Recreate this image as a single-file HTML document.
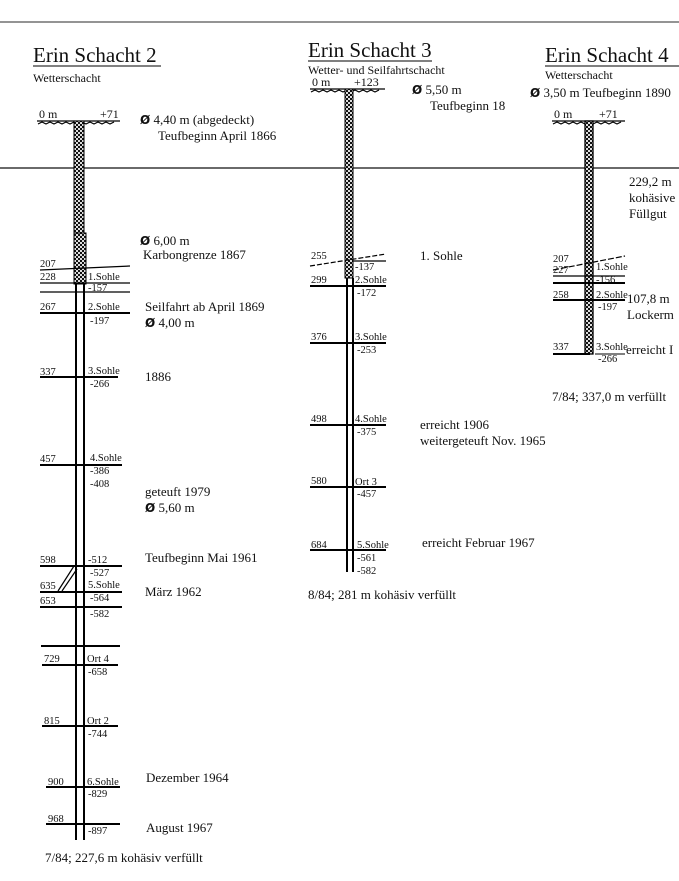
<!DOCTYPE html>
<html><head><meta charset="utf-8"><style>
html,body{margin:0;padding:0;background:#fff;}
svg{display:block;font-family:"Liberation Serif",serif;}
.d{font-weight:bold;font-family:"DejaVu Sans",sans-serif;font-size:12px;}
</style></head><body>
<svg width="679" height="881" viewBox="0 0 679 881" xmlns="http://www.w3.org/2000/svg" fill="#111">
<defs>
<pattern id="h" width="4" height="4" patternUnits="userSpaceOnUse">
<rect width="4" height="4" fill="#ddd"/>
<rect x="0" y="0" width="2" height="2" fill="#111"/>
<rect x="2" y="2" width="2" height="2" fill="#111"/>
</pattern>
</defs>
<line x1="0" y1="22" x2="679" y2="22" stroke="#555" stroke-width="1.3"/>
<line x1="0" y1="168" x2="679" y2="168" stroke="#111" stroke-width="1.3"/>

<!-- Shaft 2 -->
<text x="33" y="62" font-size="21">Erin Schacht 2</text>
<line x1="33" y1="66" x2="161" y2="66" stroke="#000" stroke-width="1"/>
<text x="33" y="82" font-size="12">Wetterschacht</text>
<text x="39" y="118" font-size="12">0 m</text>
<text x="100" y="118" font-size="12">+71</text>
<line x1="37" y1="121" x2="120" y2="121" stroke="#000" stroke-width="1.2"/>
<path d="M38 124 l4 -2 l4 2 l4 -2 l4 2 l4 -2 l4 2 l4 -2 l4 2 l4 -2 l4 2 l4 -2 l4 2 l4 -2 l4 2 l4 -2 l4 2 l4 -2 l4 2 l4 -2" fill="none" stroke="#000" stroke-width="1.2"/>
<rect x="74" y="121" width="10" height="163" fill="url(#h)" stroke="#000" stroke-width="1"/>
<rect x="74" y="233" width="12" height="51" fill="url(#h)" stroke="#000" stroke-width="1"/>
<line x1="76" y1="284" x2="76" y2="840" stroke="#000" stroke-width="2"/>
<line x1="84" y1="284" x2="84" y2="840" stroke="#000" stroke-width="2"/>
<text x="140" y="124" font-size="13"><tspan class="d">Ø</tspan>  4,40 m (abgedeckt)</text>
<text x="158" y="140" font-size="13">Teufbeginn April 1866</text>
<text x="140" y="245" font-size="13"><tspan class="d">Ø</tspan> 6,00 m</text>
<text x="143" y="259" font-size="13">Karbongrenze 1867</text>
<text x="40" y="267" font-size="10.5">207</text>
<line x1="40" y1="270" x2="130" y2="266" stroke="#000" stroke-width="1.2"/>
<text x="40" y="280" font-size="10.5">228</text>
<text x="88" y="280" font-size="10.5">1.Sohle</text>
<line x1="40" y1="283" x2="130" y2="283" stroke="#000" stroke-width="1.3"/>
<text x="88" y="291" font-size="10.5">-157</text>
<line x1="40" y1="292" x2="130" y2="292" stroke="#000" stroke-width="1.3"/>
<text x="40" y="310" font-size="10.5">267</text><text x="88" y="310" font-size="10.5">2.Sohle</text>
<line x1="40" y1="313" x2="130" y2="313" stroke="#000" stroke-width="2"/>
<text x="90" y="324" font-size="10.5">-197</text>
<text x="145" y="311" font-size="13">Seilfahrt ab April 1869</text>
<text x="145" y="327" font-size="13"><tspan class="d">Ø</tspan> 4,00 m</text>
<text x="40" y="375" font-size="10.5">337</text><text x="88" y="374" font-size="10.5">3.Sohle</text>
<line x1="40" y1="377" x2="118" y2="377" stroke="#000" stroke-width="2"/>
<text x="90" y="387" font-size="10.5">-266</text>
<text x="145" y="381" font-size="13">1886</text>
<text x="40" y="462" font-size="10.5">457</text><text x="90" y="461" font-size="10.5">4.Sohle</text>
<line x1="40" y1="465" x2="122" y2="465" stroke="#000" stroke-width="2"/>
<text x="90" y="474" font-size="10.5">-386</text>
<text x="90" y="487" font-size="10.5">-408</text>
<text x="145" y="496" font-size="13">geteuft 1979</text>
<text x="145" y="512" font-size="13"><tspan class="d">Ø</tspan> 5,60 m</text>
<text x="40" y="563" font-size="10.5">598</text><text x="88" y="563" font-size="10.5">-512</text>
<line x1="40" y1="566" x2="122" y2="566" stroke="#000" stroke-width="2"/>
<text x="90" y="576" font-size="10.5">-527</text>
<line x1="58" y1="591" x2="74" y2="566" stroke="#000" stroke-width="1.2"/>
<line x1="62" y1="591" x2="77" y2="569" stroke="#000" stroke-width="1.2"/>
<text x="40" y="589" font-size="10.5">635</text><text x="88" y="588" font-size="10.5">5.Sohle</text>
<line x1="40" y1="592" x2="122" y2="592" stroke="#000" stroke-width="2"/>
<text x="90" y="601" font-size="10.5">-564</text>
<text x="40" y="604" font-size="10.5">653</text>
<line x1="40" y1="607" x2="122" y2="607" stroke="#000" stroke-width="2"/>
<text x="90" y="617" font-size="10.5">-582</text>
<text x="145" y="562" font-size="13">Teufbeginn Mai 1961</text>
<text x="145" y="596" font-size="13">März 1962</text>
<line x1="41" y1="646" x2="120" y2="646" stroke="#000" stroke-width="2"/>
<text x="44" y="662" font-size="10.5">729</text><text x="87" y="662" font-size="10.5">Ort 4</text>
<line x1="42" y1="665" x2="118" y2="665" stroke="#000" stroke-width="2"/>
<text x="88" y="675" font-size="10.5">-658</text>
<text x="44" y="724" font-size="10.5">815</text><text x="87" y="724" font-size="10.5">Ort 2</text>
<line x1="42" y1="726" x2="118" y2="726" stroke="#000" stroke-width="2"/>
<text x="88" y="737" font-size="10.5">-744</text>
<text x="48" y="785" font-size="10.5">900</text><text x="87" y="785" font-size="10.5">6.Sohle</text>
<line x1="46" y1="787" x2="120" y2="787" stroke="#000" stroke-width="2"/>
<text x="88" y="797" font-size="10.5">-829</text>
<text x="146" y="782" font-size="13">Dezember 1964</text>
<text x="48" y="822" font-size="10.5">968</text>
<line x1="46" y1="824" x2="120" y2="824" stroke="#000" stroke-width="2"/>
<text x="88" y="834" font-size="10.5">-897</text>
<text x="146" y="832" font-size="13">August 1967</text>
<text x="45" y="862" font-size="13">7/84; 227,6 m kohäsiv verfüllt</text>

<!-- Shaft 3 -->
<text x="308" y="57" font-size="21">Erin Schacht 3</text>
<line x1="308" y1="61" x2="432" y2="61" stroke="#000" stroke-width="1"/>
<text x="308" y="74" font-size="12">Wetter- und Seilfahrtschacht</text>
<text x="312" y="86" font-size="12">0 m</text><text x="354" y="86" font-size="12">+123</text>
<line x1="310" y1="89" x2="385" y2="89" stroke="#000" stroke-width="1.2"/>
<path d="M311 92 l4 -2 l4 2 l4 -2 l4 2 l4 -2 l4 2 l4 -2 l4 2 l4 -2 l4 2 l4 -2 l4 2 l4 -2 l4 2 l4 -2 l4 2 l4 -2" fill="none" stroke="#000" stroke-width="1.2"/>
<rect x="345" y="89" width="8" height="189" fill="url(#h)" stroke="#000" stroke-width="1"/>
<line x1="347" y1="278" x2="347" y2="572" stroke="#000" stroke-width="2"/>
<line x1="353" y1="278" x2="353" y2="572" stroke="#000" stroke-width="2"/>
<text x="412" y="94" font-size="13"><tspan class="d">Ø</tspan>  5,50 m</text>
<text x="430" y="110" font-size="13">Teufbeginn 18</text>
<text x="311" y="259" font-size="10.5">255</text>
<line x1="310" y1="266" x2="386" y2="254" stroke="#000" stroke-width="1.2" stroke-dasharray="5,2"/>
<line x1="352" y1="261" x2="386" y2="261" stroke="#000" stroke-width="1.3"/>
<text x="355" y="270" font-size="10.5">-137</text>
<text x="420" y="260" font-size="13">1. Sohle</text>
<text x="311" y="283" font-size="10.5">299</text><text x="355" y="283" font-size="10.5">2.Sohle</text>
<line x1="310" y1="286" x2="386" y2="286" stroke="#000" stroke-width="2"/>
<text x="357" y="296" font-size="10.5">-172</text>
<text x="311" y="340" font-size="10.5">376</text><text x="355" y="340" font-size="10.5">3.Sohle</text>
<line x1="310" y1="343" x2="386" y2="343" stroke="#000" stroke-width="2"/>
<text x="357" y="353" font-size="10.5">-253</text>
<text x="311" y="422" font-size="10.5">498</text><text x="355" y="422" font-size="10.5">4.Sohle</text>
<line x1="310" y1="425" x2="386" y2="425" stroke="#000" stroke-width="2"/>
<text x="357" y="435" font-size="10.5">-375</text>
<text x="420" y="429" font-size="13">erreicht 1906</text>
<text x="420" y="445" font-size="13">weitergeteuft Nov. 1965</text>
<text x="311" y="484" font-size="10.5">580</text><text x="355" y="485" font-size="10.5">Ort 3</text>
<line x1="310" y1="487" x2="386" y2="487" stroke="#000" stroke-width="2"/>
<text x="357" y="497" font-size="10.5">-457</text>
<text x="311" y="548" font-size="10.5">684</text><text x="357" y="548" font-size="10.5">5.Sohle</text>
<line x1="310" y1="550" x2="386" y2="550" stroke="#000" stroke-width="2"/>
<text x="357" y="561" font-size="10.5">-561</text>
<text x="357" y="574" font-size="10.5">-582</text>
<text x="422" y="547" font-size="13">erreicht Februar 1967</text>
<text x="308" y="599" font-size="13">8/84; 281 m kohäsiv verfüllt</text>

<!-- Shaft 4 -->
<text x="545" y="62" font-size="21">Erin Schacht 4</text>
<line x1="545" y1="66" x2="679" y2="66" stroke="#000" stroke-width="1"/>
<text x="545" y="79" font-size="12">Wetterschacht</text>
<text x="530" y="97" font-size="13"><tspan class="d">Ø</tspan>  3,50 m Teufbeginn 1890</text>
<text x="554" y="118" font-size="12">0 m</text><text x="599" y="118" font-size="12">+71</text>
<line x1="552" y1="121" x2="625" y2="121" stroke="#000" stroke-width="1.2"/>
<path d="M553 124 l4 -2 l4 2 l4 -2 l4 2 l4 -2 l4 2 l4 -2 l4 2 l4 -2 l4 2 l4 -2 l4 2 l4 -2 l4 2 l4 -2 l4 2 l4 -2" fill="none" stroke="#000" stroke-width="1.2"/>
<rect x="585" y="121" width="8" height="233" fill="url(#h)" stroke="#000" stroke-width="1.3"/>
<text x="629" y="186" font-size="13">229,2 m</text>
<text x="629" y="202" font-size="13">kohäsive</text>
<text x="629" y="218" font-size="13">Füllgut</text>
<text x="553" y="262" font-size="10.5">207</text>
<line x1="553" y1="270" x2="625" y2="256" stroke="#000" stroke-width="1.2" stroke-dasharray="6,2"/>
<text x="596" y="270" font-size="10.5">1.Sohle</text>
<text x="553" y="273" font-size="10.5">227</text>
<line x1="553" y1="276" x2="625" y2="276" stroke="#000" stroke-width="1.3"/>
<text x="596" y="283" font-size="10.5">-156</text>
<line x1="553" y1="283" x2="625" y2="283" stroke="#000" stroke-width="2"/>
<text x="553" y="298" font-size="10.5">258</text><text x="596" y="298" font-size="10.5">2.Sohle</text>
<line x1="553" y1="300" x2="625" y2="300" stroke="#000" stroke-width="2"/>
<text x="598" y="310" font-size="10.5">-197</text>
<text x="627" y="303" font-size="13">107,8 m</text>
<text x="627" y="319" font-size="13">Lockerm</text>
<text x="553" y="350" font-size="10.5">337</text><text x="596" y="350" font-size="10.5">3.Sohle</text>
<line x1="553" y1="354" x2="590" y2="354" stroke="#000" stroke-width="2"/>
<line x1="595" y1="354" x2="625" y2="354" stroke="#000" stroke-width="1"/>
<text x="598" y="362" font-size="10.5">-266</text>
<text x="626" y="354" font-size="13">erreicht I</text>
<text x="552" y="401" font-size="13">7/84; 337,0 m verfüllt</text>
</svg>
</body></html>
